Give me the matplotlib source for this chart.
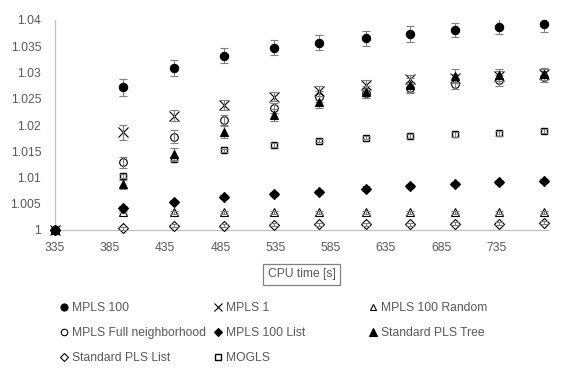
import matplotlib
matplotlib.use("Agg")
import matplotlib.pyplot as plt
from matplotlib.ticker import FuncFormatter

plt.rcParams['font.family'] = ['Liberation Sans', 'DejaVu Sans']

# CPU time [s]
cpu_time = [335, 397, 443, 488, 534, 574, 617, 657, 698, 738, 778]

# normalised results per method
mpls_100 = [1.0, 1.0272, 1.0309, 1.0332, 1.0347, 1.0357, 1.0365, 1.0373, 1.0381, 1.0387, 1.0392]
mpls_1 = [1.0, 1.0186, 1.0218, 1.0238, 1.0254, 1.0265, 1.0276, 1.0287, 1.0289, 1.0293, 1.0298]
mpls_100_random = [1.0, 1.0035, 1.0034, 1.0034, 1.0034, 1.0034, 1.0034, 1.0034, 1.0034, 1.0034, 1.0034]
mpls_full = [1.0, 1.0129, 1.0178, 1.0210, 1.0232, 1.0254, 1.0261, 1.0271, 1.0279, 1.0285, 1.0292]
mpls_100_list = [1.0, 1.0041, 1.0053, 1.0063, 1.0069, 1.0073, 1.0079, 1.0084, 1.0088, 1.0091, 1.0093]
pls_tree = [1.0, 1.0087, 1.0145, 1.0187, 1.0219, 1.0244, 1.0263, 1.0276, 1.0294, 1.0295, 1.0297]
pls_list = [1.0, 1.0003, 1.0008, 1.0008, 1.0010, 1.0011, 1.0011, 1.0011, 1.0012, 1.0012, 1.0014]
mogls = [1.0, 1.0103, 1.0135, 1.0152, 1.0162, 1.0170, 1.0176, 1.0179, 1.0182, 1.0184, 1.0189]

# error bar half widths
err_mpls_100 = [0, 0.0016, 0.0015, 0.0014, 0.0014, 0.0014, 0.0014, 0.0015, 0.0014, 0.0014, 0.0014]
err_mpls_1 = [0, 0.0014, 0.0011, 0.0010, 0.0009, 0.0009, 0.0009, 0.0009, 0.0009, 0.0009, 0.0009]
err_mpls_100_random = [0, 0.0003, 0.0003, 0.0003, 0.0003, 0.0003, 0.0003, 0.0003, 0.0003, 0.0003, 0.0003]
err_mpls_full = [0, 0.0010, 0.0012, 0.0010, 0.0010, 0.0010, 0.0010, 0.0010, 0.0010, 0.0010, 0.0010]
err_mpls_100_list = [0, 0.0004, 0.0004, 0.0004, 0.0004, 0.0004, 0.0004, 0.0004, 0.0004, 0.0004, 0.0004]
err_pls_tree = [0, 0.0009, 0.0011, 0.0011, 0.0011, 0.0012, 0.0012, 0.0013, 0.0012, 0.0012, 0.0012]
err_pls_list = [0, 0.0003, 0.0003, 0.0003, 0.0003, 0.0003, 0.0003, 0.0003, 0.0003, 0.0003, 0.0003]
err_mogls = [0, 0.0004, 0.0004, 0.0003, 0.0003, 0.0003, 0.0003, 0.0003, 0.0004, 0.0004, 0.0004]

TEXT = '#595959'
AXIS = '#BFBFBF'
ERR = '#7F7F7F'

fig = plt.figure(figsize=(5.73, 3.75), dpi=100)
ax = fig.add_axes([55 / 573, 1 - 230 / 375, 493 / 573, 210 / 375])

# drawn back to front
series = [
    ('Standard PLS List', pls_list, err_pls_list,
     dict(marker='D', ms=4.6, mfc='white', mec='black', mew=0.8)),
    ('MPLS 100 Random', mpls_100_random, err_mpls_100_random,
     dict(marker='^', ms=5.5, mfc='white', mec='black', mew=0.8)),
    ('MPLS 100 List', mpls_100_list, err_mpls_100_list,
     dict(marker='D', ms=5, mfc='black', mec='black', mew=0.8)),
    ('MOGLS', mogls, err_mogls,
     dict(marker='s', ms=5, mfc='white', mec='black', mew=1.0)),
    ('MPLS Full neighborhood', mpls_full, err_mpls_full,
     dict(marker='o', ms=5.5, mfc='white', mec='black', mew=0.8)),
    ('MPLS 1', mpls_1, err_mpls_1,
     dict(marker='x', ms=7.5, mfc='none', mec='black', mew=0.8)),
    ('Standard PLS Tree', pls_tree, err_pls_tree,
     dict(marker='^', ms=6.3, mfc='black', mec='black', mew=0.8)),
    ('MPLS 100', mpls_100, err_mpls_100,
     dict(marker='o', ms=6, mfc='black', mec='black', mew=0.8)),
]

handles = {}
for i, (name, vals, err, style) in enumerate(series):
    z = 3 + i * 0.1
    # error bars sit on top of hollow markers, behind filled ones
    ez = z + 0.05 if style['mfc'] != 'black' else z - 0.05
    ax.errorbar(cpu_time, vals, yerr=err, fmt='none', ecolor=ERR,
                elinewidth=0.8, capsize=3, capthick=0.8, zorder=ez)
    ax.plot(cpu_time, vals, linestyle='none', zorder=z, clip_on=False, **style)
    h, = ax.plot([], [], linestyle='none', **dict(style, ms=style['ms'] * 0.85))
    handles[name] = h

ax.set_xlim(335, 782)
ax.set_ylim(1.0, 1.04)
ax.set_xticks(range(335, 736, 50))
ax.set_yticks([1.0 + 0.005 * i for i in range(9)])
ax.yaxis.set_major_formatter(FuncFormatter(lambda v, p: '{:g}'.format(round(v, 3))))

for s in ['top', 'right']:
    ax.spines[s].set_visible(False)
for s in ['left', 'bottom']:
    ax.spines[s].set_color(AXIS)
    ax.spines[s].set_linewidth(0.9)
    ax.spines[s].set_zorder(1)
ax.tick_params(axis='both', length=0, labelsize=8.7, labelcolor=TEXT)
ax.tick_params(axis='y', pad=10)
ax.tick_params(axis='x', pad=9)

ax.set_xlabel('CPU time [s]', fontsize=8.7, color=TEXT, labelpad=10,
              bbox=dict(boxstyle='square,pad=0.4', fc='white', ec='#808080', lw=0.9))

# legend laid out in three equal columns like the original
columns = [['MPLS 100', 'MPLS Full neighborhood', 'Standard PLS List'],
           ['MPLS 1', 'MPLS 100 List', 'MOGLS'],
           ['MPLS 100 Random', 'Standard PLS Tree']]
col_x = [59, 213, 368]
for col, x0 in zip(columns, col_x):
    leg = fig.legend([handles[n] for n in col], col, loc='upper left',
                     bbox_to_anchor=(x0 / 573, 1 - 302 / 375), frameon=False,
                     fontsize=8.7, borderpad=0, borderaxespad=0, handlelength=0.8,
                     handletextpad=0.25, labelspacing=1.08)
    for t in leg.get_texts():
        t.set_color(TEXT)

fig.savefig('out.png', dpi=100)
